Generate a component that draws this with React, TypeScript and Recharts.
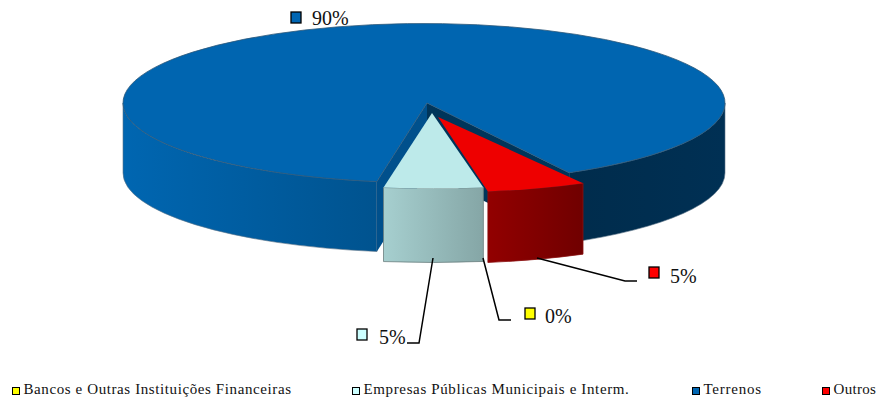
import { Legend, Pie, PieChart } from "recharts";

const categories = ["Bancos e Outras Instituições Financeiras", "Empresas Públicas Municipais e Interm.", "Terrenos", "Outros"];
// percentages; labels round them to 90 / 5 / 5 / 0
const shares = [0, 5.15, 89.5, 5.35];
const markerColors = ["#ffff00", "#ccffff", "#0066b3", "#ff0000"];

// Terrenos is painted first so the pulled-out slices sit on top of its notch
const drawOrder = [2, 3, 0, 1];
const rows = drawOrder.map((i) => ({ name: categories[i], value: shares[i], fill: markerColors[i] }));

const DEG = Math.PI / 180;
const RX = 301;

const SLICE: Record<string, any> = {
  Terrenos: { dx: 0, dy: 0, apexDx: 3, scale: 1, ry: 79.5, depth: 70, top: "#0065b0" },
  Outros: { dx: 14, dy: 14, apexDx: 0, scale: 1, ry: 75.5, depth: 71, top: "#ee0000", wall: "url(#wallRed)", edge: "#8a1010" },
  [categories[1]]: { dx: 8, dy: 10, apexDx: 0, scale: 1.03, ry: 75.5, depth: 74, top: "#bdeaea", wall: "url(#wallCyan)", edge: "#6b7f7f" },
};

const LEADERS: Record<string, any> = {
  Terrenos: { marker: [291, 12], text: [312, 25] },
  Outros: { marker: [649, 267], text: [670, 283], line: "537,258 625,281 637,281" },
  [categories[0]]: { marker: [525, 308], text: [545, 323], line: "483,258 499,320 511,320" },
  [categories[1]]: { marker: [357, 329], text: [379, 344], line: "433,258 419,343 407,343" },
};

const LEGEND_SPOTS = [
  { x: 12, spacing: 0.6 },
  { x: 352, spacing: 0.63 },
  { x: 692, spacing: 0.75 },
  { x: 822, spacing: 0.3 },
];

function point(cx: number, cy: number, rx: number, ry: number, angle: number) {
  return [cx + rx * Math.cos(angle * DEG), cy - ry * Math.sin(angle * DEG)];
}

// clockwise elliptical arc between two angles, start > end
function arc(cx: number, cy: number, rx: number, ry: number, from: number, to: number, sweep = 1) {
  const [x, y] = point(cx, cy, rx, ry, to);
  const large = Math.abs(from - to) > 180 ? 1 : 0;
  return `A${rx} ${ry} 0 ${large} ${sweep} ${x} ${y}`;
}

function wall(cx: number, cy: number, rx: number, ry: number, depth: number, from: number, to: number) {
  const [x1, y1] = point(cx, cy, rx, ry, from);
  const [x2, y2] = point(cx, cy, rx, ry, to);
  return `M${x1} ${y1}${arc(cx, cy, rx, ry, from, to)}L${x2} ${y2 + depth}${arc(cx, cy + depth, rx, ry, to, from, 0)}Z`;
}

function Slice(props: any) {
  const { cx, cy, startAngle, endAngle, outerRadius, name } = props;
  const s = SLICE[name];
  if (!s) return null;
  const rx = outerRadius * s.scale;
  const ox = cx + s.dx;
  const oy = cy + s.dy;
  const ax = ox + s.apexDx;
  const [x1, y1] = point(ox, oy, rx, s.ry, startAngle);
  const [x2, y2] = point(ox, oy, rx, s.ry, endAngle);
  const topPath = `M${ax} ${oy}L${x1} ${y1}${arc(ox, oy, rx, s.ry, startAngle, endAngle)}Z`;

  if (name === "Terrenos") {
    return (
      <g>
        <defs>
          <linearGradient id="wallBlueLeft" gradientUnits="userSpaceOnUse" x1={ox - rx} x2={x1} y1="0" y2="0">
            <stop offset="0" stopColor="#0066b1" />
            <stop offset="1" stopColor="#00538f" />
          </linearGradient>
          <linearGradient id="wallBlueRight" gradientUnits="userSpaceOnUse" x1={x2} x2={ox + rx} y1="0" y2="0">
            <stop offset="0" stopColor="#002c4c" />
            <stop offset="1" stopColor="#003054" />
          </linearGradient>
          <linearGradient id="wallCyan" x1="0" x2="1" y1="0" y2="0">
            <stop offset="0" stopColor="#a6cfcf" />
            <stop offset="1" stopColor="#85a6a6" />
          </linearGradient>
          <linearGradient id="wallRed" x1="0" x2="1" y1="0" y2="0">
            <stop offset="0" stopColor="#920000" />
            <stop offset="1" stopColor="#700000" />
          </linearGradient>
        </defs>
        <path d={wall(ox, oy, rx, s.ry, s.depth, startAngle, -180)} fill="url(#wallBlueLeft)" stroke="#5d7488" strokeWidth={0.6} />
        <path d={wall(ox, oy, rx, s.ry, s.depth, 0, endAngle + 360)} fill="url(#wallBlueRight)" stroke="#5d7488" strokeWidth={0.6} />
        {/* cut faces showing inside the notch */}
        <path d={`M${ax} ${oy}L${x1} ${y1}V${y1 + s.depth}L${ax} ${oy + s.depth}Z`} fill="#00508c" />
        <path d={`M${ax} ${oy}L${x2} ${y2}V${y2 + s.depth}L${ax} ${oy + s.depth}Z`} fill="#00355a" />
        <path d={topPath} fill={s.top} stroke="#2d5878" strokeWidth={0.8} />
      </g>
    );
  }

  return (
    <g>
      <path d={wall(ox, oy, rx, s.ry, s.depth, startAngle, endAngle)} fill={s.wall} stroke={s.edge} strokeWidth={0.8} />
      <path d={topPath} fill={s.top} />
    </g>
  );
}

const pctText = (value: number) => `${Math.round(value)}%`;

function SliceLabel(props: any) {
  const spot = LEADERS[props.name];
  if (!spot) return null;
  return (
    <g>
      <rect x={spot.marker[0]} y={spot.marker[1]} width={10} height={11} fill={props.fill} stroke="#000" strokeWidth={1.3} />
      <text x={spot.text[0]} y={spot.text[1]} fontFamily="'Liberation Serif'" fontSize={20} fill="#111">
        {pctText(props.value)}
      </text>
    </g>
  );
}

function LeaderLine(props: any) {
  const spot = LEADERS[props.name];
  if (!spot || !spot.line) return <g />;
  return <polyline points={spot.line} fill="none" stroke="#000" strokeWidth={1.5} />;
}

function BottomLegend() {
  return (
    <div style={{ position: "relative", width: 877, height: 20, fontFamily: "'Liberation Serif'", fontSize: 15, color: "#111" }}>
      {categories.map((label, i) => (
        <span key={label} style={{ position: "absolute", left: LEGEND_SPOTS[i].x, top: 2, whiteSpace: "nowrap", letterSpacing: LEGEND_SPOTS[i].spacing }}>
          <span style={{ display: "inline-block", width: 6, height: 6, marginRight: 3.5, position: "relative", top: 1, background: markerColors[i], border: "1.5px solid #000" }} />
          {label}
        </span>
      ))}
    </div>
  );
}

export default function App() {
  return (
    <div style={{ position: "absolute", left: 0, top: 0, width: 877, height: 400 }}>
      <PieChart width={877} height={400} margin={{ top: 0, right: 0, bottom: 0, left: 0 }}>
        <Pie
          data={rows}
          dataKey="value"
          nameKey="name"
          cx={424}
          cy={103}
          innerRadius={0}
          outerRadius={RX}
          startAngle={-99}
          endAngle={-459}
          stroke="none"
          isAnimationActive={false}
          shape={Slice}
          label={SliceLabel}
          labelLine={LeaderLine}
        />
        <Legend content={<BottomLegend />} wrapperStyle={{ left: 0, top: 379, width: 877, height: 20 }} />
      </PieChart>
    </div>
  );
}
